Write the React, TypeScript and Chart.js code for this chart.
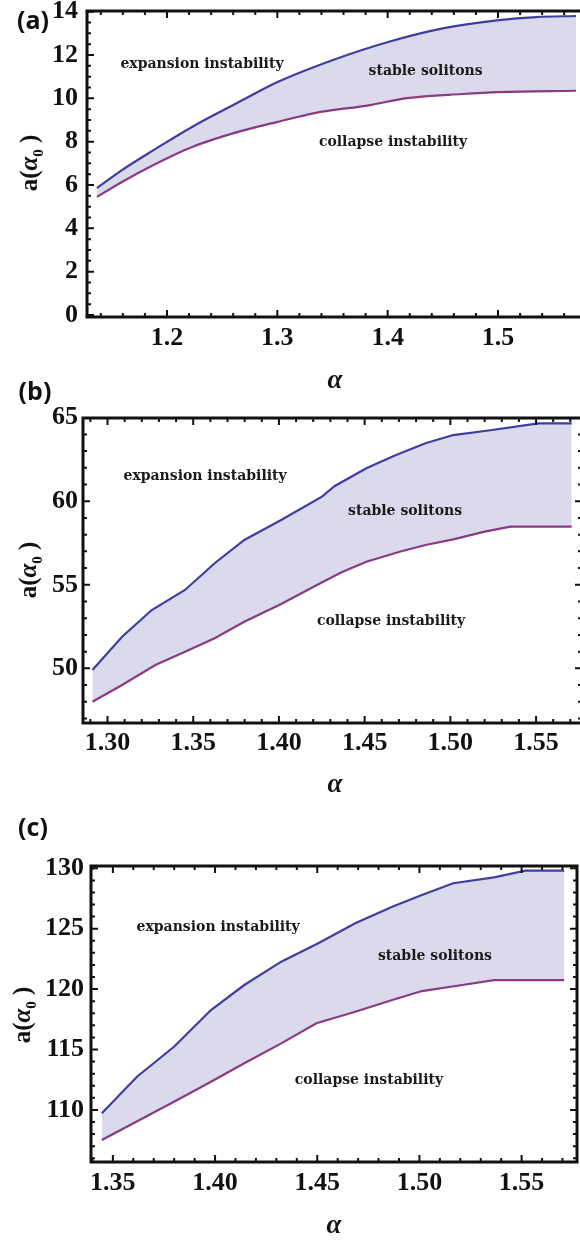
import React, { useEffect, useRef } from "react";
import { Chart, registerables } from "chart.js";

Chart.register(...registerables);

// ---------------- data : panel (a) ----------------
const alphaUpperA = [1.1365, 1.1592, 1.1878, 1.2227, 1.2635, 1.3002, 1.3505, 1.4004, 1.4511, 1.501, 1.5345, 1.5708];
const upperA = [5.86, 6.69, 7.61, 8.68, 9.78, 10.75, 11.77, 12.6, 13.24, 13.61, 13.75, 13.8];
const alphaLowerA = [1.1365, 1.1592, 1.1878, 1.2227, 1.2635, 1.3002, 1.3338, 1.3841, 1.4176, 1.4674, 1.501, 1.5708];
const lowerA = [5.45, 6.14, 6.92, 7.75, 8.44, 8.91, 9.32, 9.69, 10.01, 10.2, 10.29, 10.35];
const xTicksA = [1.2, 1.3, 1.4, 1.5];
const yTicksA = [0, 2, 4, 6, 8, 10, 12, 14];

// ---------------- data : panel (b) ----------------
const alphaUpperB = [1.2912, 1.3085, 1.3258, 1.3452, 1.3625, 1.3798, 1.4013, 1.4251, 1.4326, 1.451, 1.4683, 1.4855, 1.5017, 1.5243, 1.5513, 1.5708];
const upperB = [49.9, 51.89, 53.49, 54.69, 56.29, 57.68, 58.88, 60.27, 60.91, 61.97, 62.77, 63.47, 63.96, 64.26, 64.66, 64.66];
const alphaLowerB = [1.2912, 1.3085, 1.3279, 1.3452, 1.3625, 1.3798, 1.4013, 1.4186, 1.4359, 1.451, 1.4704, 1.4855, 1.5017, 1.52, 1.5351, 1.5708];
const lowerB = [48.0, 49.0, 50.2, 51.0, 51.8, 52.79, 53.85, 54.79, 55.72, 56.38, 56.98, 57.38, 57.72, 58.18, 58.48, 58.48];
const xTicksB = [1.3, 1.35, 1.4, 1.45, 1.5, 1.55];
const yTicksB = [50, 55, 60, 65];

// ---------------- data : panel (c) ----------------
const alphaUpperC = [1.3446, 1.3618, 1.3799, 1.398, 1.4143, 1.4324, 1.4505, 1.4686, 1.4867, 1.5012, 1.5165, 1.5365, 1.5518, 1.5708];
const upperC = [109.72, 112.75, 115.23, 118.27, 120.34, 122.27, 123.79, 125.45, 126.82, 127.79, 128.76, 129.25, 129.8, 129.8];
const alphaLowerC = [1.3446, 1.3799, 1.398, 1.4143, 1.4324, 1.4496, 1.4686, 1.4867, 1.5012, 1.521, 1.5365, 1.5708];
const lowerC = [107.51, 110.68, 112.33, 113.86, 115.51, 117.17, 118.13, 119.1, 119.84, 120.34, 120.75, 120.75];
const xTicksC = [1.35, 1.4, 1.45, 1.5, 1.55];
const yTicksC = [110, 115, 120, 125, 130];

// region names and where they sit (data coordinates)
const regionNames = ["expansion instability", "stable solitons", "collapse instability"];
const regionAlphaA = [1.2317, 1.4344, 1.4049];
const regionValueA = [11.58, 11.26, 7.98];
const regionAlphaB = [1.3569, 1.4736, 1.4654];
const regionValueB = [61.51, 59.42, 52.83];
const regionAlphaC = [1.4015, 1.5076, 1.4753];
const regionValueC = [125.14, 122.74, 112.47];

const panelTags = ["(a)", "(b)", "(c)"];
const xTitle = "α";

// ---------------- styles ----------------
const CANVAS_W = 600;
const UPPER_COLOR = "rgb(62,62,158)";
const LOWER_COLOR = "rgb(138,58,128)";
const FILL_COLOR = "rgb(218,218,236)";
const INK = "#111111";
const TICK_FONT = { family: "'Liberation Serif', serif", size: 26, weight: "bold" as const };

type Panel = {
  tag: string;
  top: number;
  height: number;
  area: { left: number; top: number; right: number; bottom: number };
  xMin: number; xMax: number; yMin: number; yMax: number;
  xTicks: number[]; yTicks: number[];
  xDec: number; xMinor: number; yMinor: number;
  upperX: number[]; upperY: number[]; lowerX: number[]; lowerY: number[];
  regionX: number[]; regionY: number[];
  smooth: boolean;
  yPad: number; xPad: number;
  tagPos: [number, number];
  yTitlePos: [number, number];
  xTitlePos: [number, number];
};

const panels: Panel[] = [
  {
    tag: panelTags[0], top: 0, height: 395,
    area: { left: 87, top: 11, right: 591, bottom: 317 },
    xMin: 1.1275, xMax: 1.5843, yMin: -0.092, yMax: 14.03,
    xTicks: xTicksA, yTicks: yTicksA, xDec: 1, xMinor: 0.02, yMinor: 0.5,
    upperX: alphaUpperA, upperY: upperA, lowerX: alphaLowerA, lowerY: lowerA,
    regionX: regionAlphaA, regionY: regionValueA, smooth: true,
    yPad: 9, xPad: 6,
    tagPos: [33, 22], yTitlePos: [30, 163], xTitlePos: [335, 381],
  },
  {
    tag: panelTags[1], top: 380, height: 420,
    area: { left: 83, top: 38, right: 582, bottom: 343 },
    xMin: 1.2857, xMax: 1.5768, yMin: 46.73, yMax: 64.98,
    xTicks: xTicksB, yTicks: yTicksB, xDec: 2, xMinor: 0.01, yMinor: 1,
    upperX: alphaUpperB, upperY: upperB, lowerX: alphaLowerB, lowerY: lowerB,
    regionX: regionAlphaB, regionY: regionValueB, smooth: false,
    yPad: 5, xPad: 5,
    tagPos: [35, 13], yTitlePos: [29, 190], xTitlePos: [335, 405],
  },
  {
    tag: panelTags[2], top: 800, height: 442,
    area: { left: 91, top: 66, right: 577, bottom: 362 },
    xMin: 1.3393, xMax: 1.5771, yMin: 105.69, yMax: 130.19,
    xTicks: xTicksC, yTicks: yTicksC, xDec: 2, xMinor: 0.01, yMinor: 1,
    upperX: alphaUpperC, upperY: upperC, lowerX: alphaLowerC, lowerY: lowerC,
    regionX: regionAlphaC, regionY: regionValueC, smooth: false,
    yPad: 7, xPad: 6,
    tagPos: [33, 29], yTitlePos: [23, 215], xTitlePos: [334, 426],
  },
];

function stepValues(min: number, max: number, step: number): number[] {
  const out: number[] = [];
  const k0 = Math.ceil(min / step - 1e-9);
  const k1 = Math.floor(max / step + 1e-9);
  for (let k = k0; k <= k1; k++) out.push(Math.round(k * step * 1e9) / 1e9);
  return out;
}

function decorPlugin(p: Panel) {
  return {
    id: "decor" + p.tag,
    afterDatasetsDraw(chart: any) {
      const { ctx, chartArea: a, scales } = chart;
      const xs = scales.x;
      const ys = scales.y;
      const xMajor = xs.ticks.map((t: any) => t.value);
      const yMajor = ys.ticks.map((t: any) => t.value);
      const isMaj = (v: number, arr: number[]) => arr.some((m) => Math.abs(m - v) < 1e-6);
      ctx.save();
      ctx.strokeStyle = INK;
      ctx.lineWidth = 2;
      ctx.lineCap = "butt";
      ctx.beginPath();
      for (const v of stepValues(p.xMin, p.xMax, p.xMinor)) {
        const px = xs.getPixelForValue(v);
        const len = isMaj(v, xMajor) ? 7 : 4;
        ctx.moveTo(px, a.bottom); ctx.lineTo(px, a.bottom - len);
        ctx.moveTo(px, a.top); ctx.lineTo(px, a.top + len);
      }
      for (const v of stepValues(p.yMin, p.yMax, p.yMinor)) {
        const py = ys.getPixelForValue(v);
        const len = isMaj(v, yMajor) ? 7 : 4;
        ctx.moveTo(a.left, py); ctx.lineTo(a.left + len, py);
        ctx.moveTo(a.right, py); ctx.lineTo(a.right - len, py);
      }
      ctx.stroke();
      ctx.lineWidth = 3;
      ctx.strokeRect(a.left, a.top, a.right - a.left, a.bottom - a.top);
      ctx.restore();
    },
    afterDraw(chart: any) {
      const { ctx, scales } = chart;
      const xs = scales.x;
      const ys = scales.y;
      ctx.save();
      // region labels
      ctx.fillStyle = "#1a1a1a";
      ctx.font = "bold 14px 'DejaVu Serif', serif";
      ctx.textAlign = "center";
      ctx.textBaseline = "middle";
      regionNames.forEach((name, i) => {
        ctx.fillText(name, xs.getPixelForValue(p.regionX[i]), ys.getPixelForValue(p.regionY[i]));
      });
      // panel tag
      ctx.fillStyle = INK;
      ctx.font = "bold 25px 'Open Sans', sans-serif";
      ctx.fillText(p.tag, p.tagPos[0], p.tagPos[1]);
      // x title
      ctx.font = "italic bold 27px 'Liberation Serif', serif";
      ctx.fillText(xTitle, p.xTitlePos[0], p.xTitlePos[1]);
      // y title a(α0 )
      ctx.translate(p.yTitlePos[0], p.yTitlePos[1]);
      ctx.rotate(-Math.PI / 2);
      const parts = [
        { t: "a(", f: "bold 25px 'Liberation Serif', serif", dy: 0 },
        { t: "α", f: "italic bold 25px 'Liberation Serif', serif", dy: 0 },
        { t: "0", f: "bold 15px 'Liberation Serif', serif", dy: 6 },
        { t: " )", f: "bold 25px 'Liberation Serif', serif", dy: 0 },
      ];
      let total = 0;
      const widths = parts.map((pt) => {
        ctx.font = pt.f;
        const w = ctx.measureText(pt.t).width;
        total += w;
        return w;
      });
      ctx.textAlign = "left";
      ctx.textBaseline = "alphabetic";
      let cx = -total / 2;
      parts.forEach((pt, i) => {
        ctx.font = pt.f;
        ctx.fillText(pt.t, cx, 7 + pt.dy);
        cx += widths[i];
      });
      ctx.restore();
    },
  };
}

function makeConfig(p: Panel): any {
  return {
    type: "line",
    data: {
      datasets: [
        {
          data: p.upperX.map((x, i) => ({ x, y: p.upperY[i] })),
          borderColor: UPPER_COLOR,
          borderWidth: 2.2,
          pointRadius: 0,
          fill: "+1",
          backgroundColor: FILL_COLOR,
          cubicInterpolationMode: p.smooth ? "monotone" : "default",
          tension: 0,
        },
        {
          data: p.lowerX.map((x, i) => ({ x, y: p.lowerY[i] })),
          borderColor: LOWER_COLOR,
          borderWidth: 2.2,
          pointRadius: 0,
          fill: false,
          cubicInterpolationMode: p.smooth ? "monotone" : "default",
          tension: 0,
        },
      ],
    },
    options: {
      animation: false,
      responsive: false,
      events: [],
      layout: { padding: { left: 0, top: p.area.top, right: CANVAS_W - p.area.right, bottom: 0 } },
      plugins: {
        legend: { display: false },
        tooltip: { enabled: false },
        title: { display: false },
        filler: { drawTime: "beforeDatasetsDraw" },
      },
      scales: {
        x: {
          type: "linear",
          min: p.xMin,
          max: p.xMax,
          afterBuildTicks: (s: any) => { s.ticks = p.xTicks.map((v) => ({ value: v })); },
          afterFit: (s: any) => { s.height = p.height - p.area.bottom; s.paddingLeft = 0; s.paddingRight = 0; },
          grid: { display: false, drawTicks: false },
          border: { display: false },
          ticks: {
            padding: p.xPad,
            font: TICK_FONT,
            color: INK,
            maxRotation: 0,
            autoSkip: false,
            callback: (v: any) => Number(v).toFixed(p.xDec),
          },
        },
        y: {
          type: "linear",
          min: p.yMin,
          max: p.yMax,
          afterBuildTicks: (s: any) => { s.ticks = p.yTicks.map((v) => ({ value: v })); },
          afterFit: (s: any) => { s.width = p.area.left; s.paddingTop = 0; s.paddingBottom = 0; },
          grid: { display: false, drawTicks: false },
          border: { display: false },
          ticks: {
            padding: p.yPad,
            font: TICK_FONT,
            color: INK,
            autoSkip: false,
            callback: (v: any) => String(Math.round(Number(v))),
          },
        },
      },
    },
    plugins: [decorPlugin(p)],
  };
}

function PanelChart({ p }: { p: Panel }) {
  const ref = useRef<HTMLCanvasElement | null>(null);
  useEffect(() => {
    if (!ref.current) return;
    const chart = new Chart(ref.current, makeConfig(p));
    return () => chart.destroy();
  }, [p]);
  return (
    <canvas
      ref={ref}
      width={CANVAS_W}
      height={p.height}
      style={{ position: "absolute", left: 0, top: p.top, width: CANVAS_W, height: p.height, display: "block" }}
    />
  );
}

export default function App() {
  return (
    <div
      style={{
        position: "absolute",
        left: 0,
        top: 0,
        width: 580,
        height: 1242,
        overflow: "hidden",
        background: "#ffffff",
      }}
    >
      {panels.map((p) => (
        <PanelChart key={p.tag} p={p} />
      ))}
    </div>
  );
}
